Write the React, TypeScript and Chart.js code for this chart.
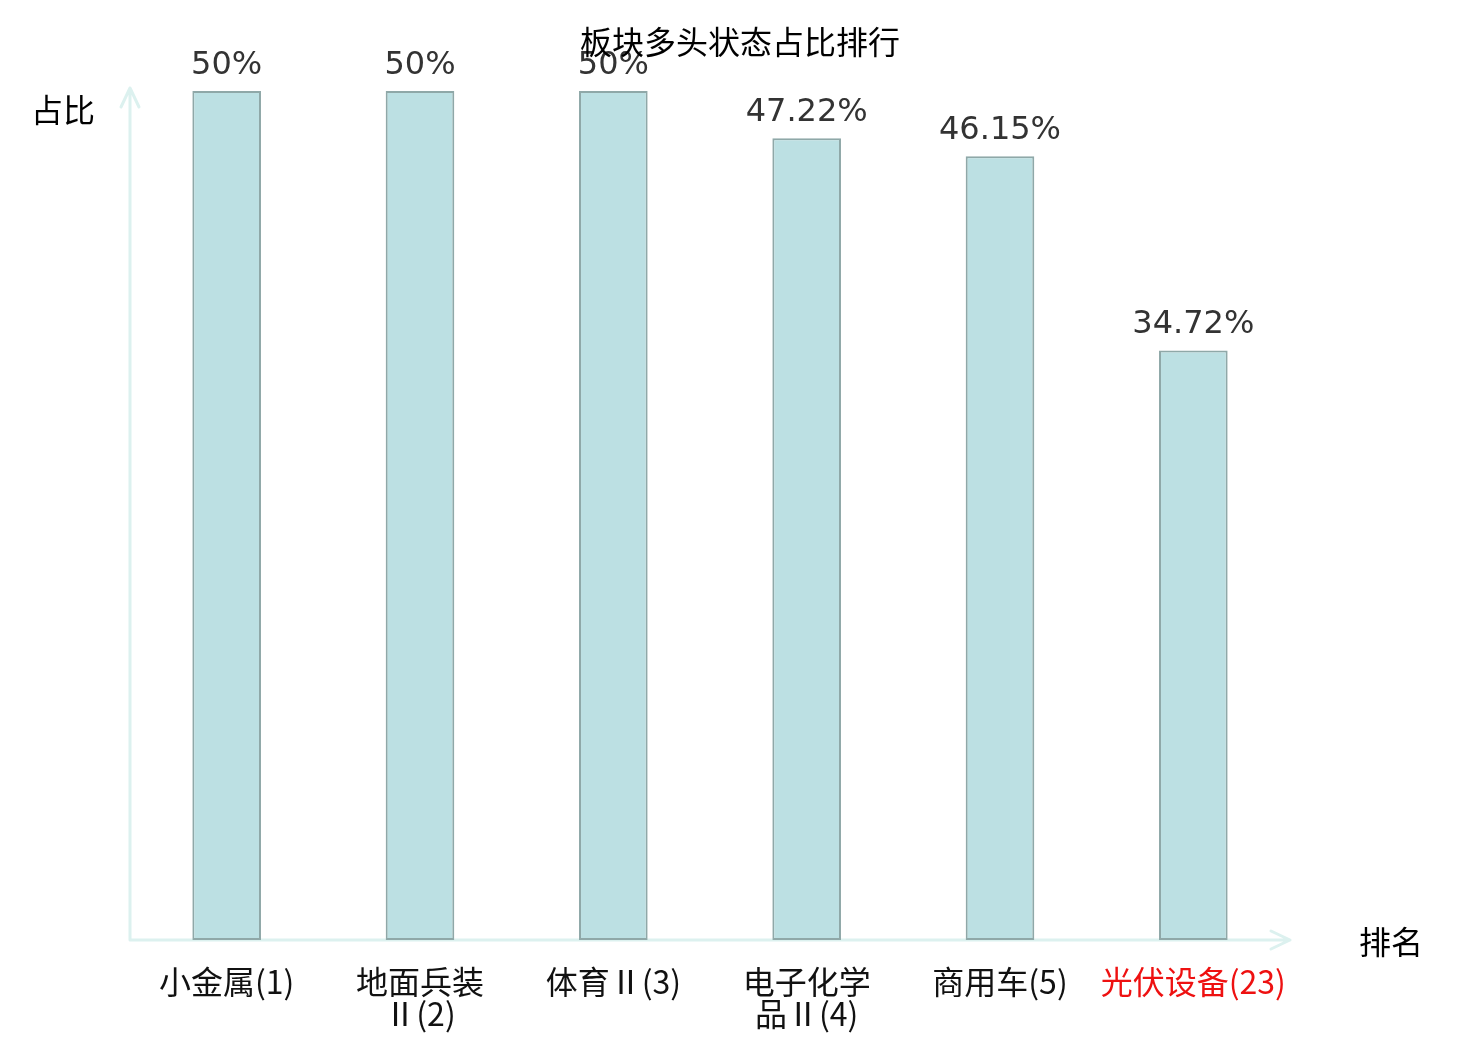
import React, { useEffect, useRef } from "react";
import { Chart, registerables } from "chart.js";

Chart.register(...registerables);

const categories: (string | string[])[] = [
  "小金属(1)",
  ["地面兵装", "Ⅱ(2)"],
  "体育Ⅱ(3)",
  ["电子化学", "品Ⅱ(4)"],
  "商用车(5)",
  "光伏设备(23)",
];
const values: number[] = [50, 50, 50, 47.22, 46.15, 34.72];
const valueLabels: string[] = ["50%", "50%", "50%", "47.22%", "46.15%", "34.72%"];
const highlightIndex = 5;
const title = "板块多头状态占比排行";
const yName = "占比";
const xName = "排名";

const AXIS_COLOR = "#dcf1ef";

const overlayPlugin = {
  id: "overlay",
  beforeDatasetsDraw(chart: any) {
    const { ctx, chartArea } = chart;
    const { left, right, top, bottom } = chartArea;
    ctx.save();
    ctx.strokeStyle = AXIS_COLOR;
    ctx.lineWidth = 3;
    ctx.lineCap = "round";
    ctx.lineJoin = "round";
    ctx.beginPath();
    ctx.moveTo(left, bottom);
    ctx.lineTo(right, bottom);
    ctx.moveTo(right - 19, bottom - 9);
    ctx.lineTo(right, bottom);
    ctx.lineTo(right - 19, bottom + 9);
    ctx.moveTo(left, bottom);
    ctx.lineTo(left, top - 3);
    ctx.moveTo(left - 9, top + 16);
    ctx.lineTo(left, top - 3);
    ctx.lineTo(left + 9, top + 16);
    ctx.stroke();
    ctx.restore();
  },
  afterDatasetsDraw(chart: any) {
    const { ctx, chartArea } = chart;
    const meta = chart.getDatasetMeta(0);
    ctx.save();
    ctx.font = '32px "DejaVu Sans", "Noto Sans CJK SC", sans-serif';
    ctx.fillStyle = "#333333";
    ctx.textAlign = "center";
    ctx.textBaseline = "alphabetic";
    meta.data.forEach((bar: any, i: number) => {
      ctx.fillText(valueLabels[i], bar.x, bar.y - 17);
    });
    ctx.fillStyle = "#000000";
    ctx.font = '32px "Noto Sans CJK SC", sans-serif';
    ctx.textBaseline = "middle";
    ctx.fillText(title, chart.width / 2, 42);
    ctx.fillText(yName, 63, 110);
    ctx.fillText(xName, 1391, chartArea.bottom + 2);
    ctx.restore();
  },
};

export default function App() {
  const canvasRef = useRef<HTMLCanvasElement | null>(null);

  useEffect(() => {
    document.body.style.margin = "0";
    const canvas = canvasRef.current;
    if (!canvas) return;
    const chart = new Chart(canvas, {
      type: "bar",
      data: {
        labels: categories,
        datasets: [
          {
            data: values,
            backgroundColor: "#bce0e3",
            borderColor: "#8fa8a8",
            borderWidth: 2,
            borderSkipped: false,
            categoryPercentage: 1,
            barPercentage: 0.355,
          },
        ],
      },
      options: {
        responsive: false,
        animation: false,
        devicePixelRatio: 1,
        layout: { padding: { left: 130, right: 190, top: 91, bottom: -16 } },
        plugins: {
          legend: { display: false },
          title: { display: false },
          tooltip: { enabled: false },
        },
        scales: {
          x: {
            display: true,
            grid: { display: false, drawTicks: false },
            border: { display: false },
            ticks: {
              padding: 26,
              maxRotation: 0,
              autoSkip: false,
              font: { size: 32, family: '"Noto Sans CJK SC", sans-serif', lineHeight: "32px" },
              color: (c: any) => (c.index === highlightIndex ? "#ee1111" : "#111111"),
            },
          },
          y: {
            display: false,
            min: 0,
            max: 50,
          },
        },
      },
      plugins: [overlayPlugin],
    });
    return () => chart.destroy();
  }, []);

  return (
    <div style={{ position: "absolute", left: 0, top: 0, width: 1480, height: 1040, background: "#fff" }}>
      <canvas ref={canvasRef} width={1480} height={1040} />
    </div>
  );
}
